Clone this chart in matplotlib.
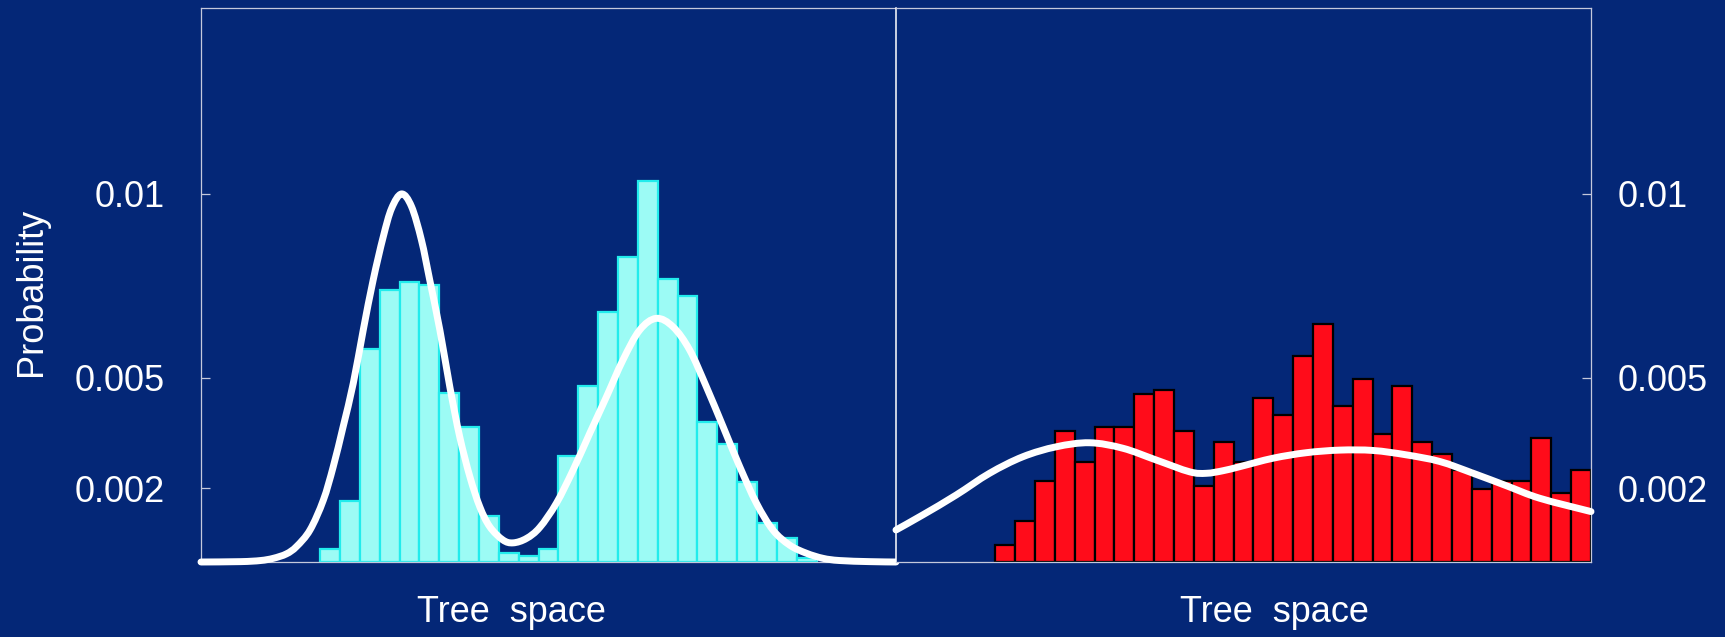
import matplotlib.pyplot as plt
from matplotlib.patches import PathPatch
from matplotlib.path import Path


# --------------------------------------------------
# 1. DATA (x in bin units, 35 bins per panel)
# --------------------------------------------------

left_bins = list(range(6, 31))
left_probs = [
    0.00035, 0.00167, 0.00579, 0.0074, 0.00761, 0.00753, 0.00458,
    0.00368, 0.00126, 0.00025, 0.00017, 0.00035, 0.00289, 0.00479,
    0.0068, 0.0083, 0.01035, 0.0077, 0.00723, 0.0038, 0.0032,
    0.00217, 0.00107, 0.00066, 0.0001,
]

right_bins = list(range(5, 35))
right_probs = [
    0.00047, 0.00112, 0.00219, 0.00357, 0.00272, 0.00368, 0.00368,
    0.00457, 0.00467, 0.00357, 0.00207, 0.00325, 0.00272, 0.00445,
    0.004, 0.0056, 0.00647, 0.00424, 0.00498, 0.00348, 0.00478,
    0.00325, 0.00294, 0.0025, 0.00197, 0.0022, 0.0022, 0.00336,
    0.00188, 0.0025,
]

left_fit_x = [
    0, 2.0, 3.0, 3.64, 4.3, 4.81, 5.49, 6.16, 6.66, 7.16, 7.67,
    8.17, 8.67, 9.18, 9.6, 10.1, 10.6, 11.1, 11.52, 12.03,
    12.53, 13.03, 13.54, 14.04, 14.54, 15.2, 15.72, 16.39, 17.06, 17.9,
    18.74, 19.58, 20.42, 21.25, 22.09, 22.93, 23.77, 24.61,
    25.45, 26.29, 27.13, 27.97, 28.8, 29.64, 30.48, 31.32, 32.16, 33.67,
    35,
]
left_fit_p = [
    0, 0.00001, 0.00004, 0.0001, 0.00022, 0.00042, 0.00087, 0.00168,
    0.00259, 0.00368, 0.00486, 0.0063, 0.00766, 0.00884, 0.00961,
    0.0100, 0.00966, 0.00875, 0.00766, 0.0063,
    0.00476, 0.0034, 0.00232, 0.0015, 0.00096, 0.0006, 0.00052, 0.00064,
    0.00094, 0.0016, 0.0025, 0.0035, 0.00449, 0.00549, 0.0063,
    0.00662, 0.00639, 0.00576, 0.00476, 0.00368, 0.00259,
    0.0016, 0.00087, 0.00046, 0.00024, 0.0001, 0.00004, 0.00001, 0,
]

right_fit_x = [
    0, 1.35, 3.03, 4.71, 6.39, 8.07, 9.75, 11.43,
    13.11, 14.79, 15.63, 16.47, 17.31, 18.99, 20.67,
    22.35, 24.03, 25.71, 27.39, 29.07, 30.75, 32.43, 35,
]
right_fit_p = [
    0.00087, 0.00128, 0.00182, 0.00241, 0.00286, 0.00313, 0.00324,
    0.00309, 0.00277, 0.00245, 0.00241, 0.00248, 0.00259, 0.00282,
    0.00297, 0.00304, 0.00303, 0.00291, 0.00273, 0.00241, 0.00207,
    0.00173, 0.00137,
]

y_ticks = [0.002, 0.005, 0.01]
y_tick_labels = ["0.002", "0.005", "0.01"]


# --------------------------------------------------
# 2. HELPER: SMOOTH LINE THROUGH THE FIT POINTS
# --------------------------------------------------

def smooth_path(xs, ys):
    # Catmull-Rom segments written as cubic Bezier path codes
    n = len(xs)
    verts = [(xs[0], ys[0])]
    codes = [Path.MOVETO]
    for i in range(n - 1):
        a = max(i - 1, 0)
        d = min(i + 2, n - 1)
        c1 = (xs[i] + (xs[i + 1] - xs[a]) / 6, ys[i] + (ys[i + 1] - ys[a]) / 6)
        c2 = (xs[i + 1] - (xs[d] - xs[i]) / 6, ys[i + 1] - (ys[d] - ys[i]) / 6)
        verts += [c1, c2, (xs[i + 1], ys[i + 1])]
        codes += [Path.CURVE4] * 3
    return Path(verts, codes)


# --------------------------------------------------
# 3. STYLE
# --------------------------------------------------

bg = "#042777"
spine_col = "#c4c8dc"

plt.rcParams["font.family"] = ["Liberation Sans", "DejaVu Sans"]
plt.rcParams["font.size"] = 26

fig = plt.figure(figsize=(17.25, 6.37), dpi=100, facecolor=bg)

ax_l = fig.add_axes([0.11652, 0.11774, 0.40290, 0.87017])
ax_r = fig.add_axes([0.51942, 0.11774, 0.40290, 0.87017])

for ax in (ax_l, ax_r):
    ax.set_facecolor(bg)
    ax.set_xlim(0, 35)
    ax.set_ylim(0, 0.01506)
    ax.set_xticks([])
    for side in ("top", "bottom", "left", "right"):
        ax.spines[side].set_color(spine_col)
        ax.spines[side].set_linewidth(0.9)

# divider between the two panels
ax_l.spines["right"].set_visible(False)
ax_r.spines["left"].set_color("white")
ax_r.spines["left"].set_linewidth(1.1)


# --------------------------------------------------
# 4. HISTOGRAMS AND FITTED CURVES
# --------------------------------------------------

ax_l.bar(
    left_bins, left_probs, width=1, align="edge",
    color="#9cfbf5", edgecolor="#22ecec", linewidth=1.6, zorder=2,
)
ax_r.bar(
    right_bins, right_probs, width=1, align="edge",
    color="#ff0c1a", edgecolor="black", linewidth=1.6, zorder=2,
)

for ax, xs, ys in ((ax_l, left_fit_x, left_fit_p), (ax_r, right_fit_x, right_fit_p)):
    ax.add_patch(PathPatch(
        smooth_path(xs, ys), facecolor="none", edgecolor="white",
        linewidth=5, capstyle="round", joinstyle="round",
        clip_on=False, zorder=4,
    ))


# --------------------------------------------------
# 5. AXES, TICKS AND LABELS
# --------------------------------------------------

ax_l.set_yticks(y_ticks)
ax_l.set_yticklabels(y_tick_labels)
ax_l.tick_params(
    axis="y", direction="in", length=6.5, width=0.9,
    color=spine_col, labelcolor="white", pad=26,
)

ax_r.yaxis.tick_right()
ax_r.set_yticks(y_ticks)
ax_r.set_yticklabels(y_tick_labels)
ax_r.tick_params(
    axis="y", direction="in", length=6.5, width=0.9,
    color=spine_col, labelcolor="white", pad=19,
)

fig.text(0.2962, 0.0235, "Tree  space", color="white", ha="center", va="baseline")
fig.text(0.7386, 0.0235, "Tree  space", color="white", ha="center", va="baseline")
fig.text(0.0183, 0.5424, "Probability", color="white", rotation=90,
         ha="center", va="center")

fig.savefig("out.png", dpi=100, facecolor=bg)
